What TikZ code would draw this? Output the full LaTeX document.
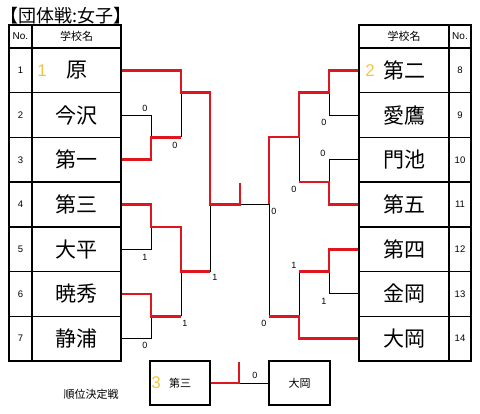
\documentclass[tikz,border=0pt]{standalone}
\usepackage{fontspec}
\setmainfont{Liberation Sans}
\newfontfamily\jp{Noto Sans CJK JP}
\definecolor{bred}{RGB}{222,22,30}
\definecolor{gold}{RGB}{245,196,66}
\begin{document}
\begin{tikzpicture}[x=1pt,y=-1pt,
  cell/.style={draw,line width=1.3pt,inner sep=0pt,minimum height=44.714pt},
  namecell/.style={cell,minimum width=89pt,font=\jp\fontsize{21}{21}\selectfont},
  rnamecell/.style={cell,minimum width=90pt,font=\jp\fontsize{21}{21}\selectfont},
  nocell/.style={cell,minimum width=23pt,font=\fontsize{9.5}{9.5}\selectfont},
  rnocell/.style={cell,minimum width=22pt,font=\fontsize{9.5}{9.5}\selectfont},
  hdr/.style={draw,line width=1.3pt,inner sep=0pt,minimum height=23pt},
  bl/.style={line width=0.9pt,black},
  rd/.style={line width=2.6pt,bred},
  sc/.style={inner sep=0pt,font=\fontsize{9}{9}\selectfont},
  seed/.style={inner sep=0pt,text=gold,font=\fontsize{17}{17}\selectfont},
  smallbox/.style={draw,line width=1.3pt,minimum width=60pt,minimum height=44pt,inner sep=0pt,font=\jp\fontsize{11}{11}\selectfont}]
\useasboundingbox (0,0) rectangle (480,414);
% title
\node[anchor=west,inner sep=0pt,font=\jp\fontsize{18}{18}\selectfont] (title) at (0,16) {【団体戦:女子】};
% left table header
\node[hdr,minimum width=23pt,font=\fontsize{10}{10}\selectfont] (lhno) at (20.5,36.5) {No.};
\node[hdr,minimum width=89pt,font=\jp\fontsize{11}{11}\selectfont] (lhname) at (76.5,36.5) {学校名};
% right table header
\node[hdr,minimum width=90pt,font=\jp\fontsize{11}{11}\selectfont] (rhname) at (404,36.5) {学校名};
\node[hdr,minimum width=22pt,font=\fontsize{10}{10}\selectfont] (rhno) at (460,36.5) {No.};
% left rows
\foreach \i/\t in {1/原,2/今沢,3/第一,4/第三,5/大平,6/暁秀,7/静浦}{
  \node[nocell] (ln\i) at (20.5,{48+(\i-0.5)*44.714}) {\i};
  \node[namecell] (r\i) at (76.5,{48+(\i-0.5)*44.714}) {\t};
}
% right rows
\foreach \i/\t/\n in {1/第二/8,2/愛鷹/9,3/門池/10,4/第五/11,5/第四/12,6/金岡/13,7/大岡/14}{
  \node[rnamecell] (s\n) at (404,{48+(\i-0.5)*44.714}) {\t};
  \node[rnocell] (rn\n) at (460,{48+(\i-0.5)*44.714}) {\n};
}
% seeds
\node[seed] (seed1) at (42,70.4) {1};
\node[seed] (seed2) at (370,70.4) {2};
% junction coordinates
\coordinate (a1) at (151,137.4);
\coordinate (a2) at (181,92.7);
\coordinate (a3) at (151,227);
\coordinate (a4) at (151,316.3);
\coordinate (a5) at (181,271.8);
\coordinate (a6) at (210,204.5);
\coordinate (top) at (240,183);
\coordinate (fin) at (240,204.5);
\coordinate (b1) at (329,92.7);
\coordinate (b2) at (329,182);
\coordinate (b3) at (299,137);
\coordinate (b4) at (329,271.8);
\coordinate (b5) at (299,316.3);
\coordinate (b6) at (269,204.5);
% black lines left
\draw[bl] (r2.east) -| (a1);
\draw[bl] (r5.east) -| (a3);
\draw[bl] (r7.east) -| (a4);
\draw[bl] (a2) -- (181,137.4);
\draw[bl] (181,316.3) -- (a5);
\draw[bl] (210,271.8) -- (a6);
% black lines right
\draw[bl] (s9.west) -| (b1);
\draw[bl] (s10.west) -| (b2);
\draw[bl] (s13.west) -| (b4);
\draw[bl] (299,182) -- (b3);
\draw[bl] (299,271.8) -- (b5);
\draw[bl] (269,316.3) -- (b6) -- (fin);
% red lines left
\draw[rd] (r3.east) -| (a1) -- (181,137.4);
\draw[rd] (r1.east) -| (a2) -- (210,92.7) -- (a6) -- (fin) -- (top);
\draw[rd] (r4.east) -| (a3) -- (181,227) -- (a5) -- (210,271.8);
\draw[rd] (r6.east) -| (a4) -- (181,316.3);
% red lines right
\draw[rd] (s8.west) -| (b1) -- (299,92.7) -- (b3) -- (269,137) -- (b6);
\draw[rd] (s11.west) -| (b2) -- (299,182);
\draw[rd] (s12.west) -| (b4) -- (299,271.8);
\draw[rd] (s14.west) -| (b5) -- (269,316.3);
% scores
\node[sc] (c1) at (145,108) {0};
\node[sc] (c2) at (175,145) {0};
\node[sc] (c3) at (145,257) {1};
\node[sc] (c4) at (145,345) {0};
\node[sc] (c5) at (185,323) {1};
\node[sc] (c6) at (215,277) {1};
\node[sc] (c7) at (274,211) {0};
\node[sc] (c8) at (264,323) {0};
\node[sc] (c9) at (294,265) {1};
\node[sc] (c10) at (324,301) {1};
\node[sc] (c11) at (294,189) {0};
\node[sc] (c12) at (323,153) {0};
\node[sc] (c13) at (324,122) {0};
% 3rd place
\node[inner sep=0pt,font=\jp\fontsize{11}{11}\selectfont] (jlabel) at (91,394) {順位決定戦};
\node[smallbox] (third) at (180,383) {第三};
\node[seed] (seed3) at (156,383) {3};
\node[smallbox,minimum width=61pt] (ooka) at (299.5,383) {大岡};
\coordinate (t1) at (239,383);
\coordinate (t2) at (239,362);
\draw[bl] (t1) -- (ooka.west);
\draw[rd] (third.east) -- (t1) -- (t2);
\node[sc] (c14) at (255,375) {0};
\end{tikzpicture}
\end{document}
